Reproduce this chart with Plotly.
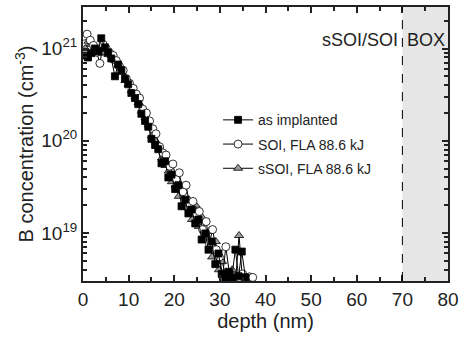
import plotly.graph_objects as go

# depth (nm) and B concentration (cm^-3)
depth_impl = [0.4, 1.1, 1.8, 2.6, 3.3, 4.0, 4.8, 5.5, 6.2, 7.0, 7.7, 8.4, 9.2, 9.9, 10.6, 11.4, 12.1, 12.8,
              13.6, 14.3, 15.0, 15.8, 16.5, 17.2, 18.0, 18.7, 19.4, 20.2, 20.9, 21.6, 22.4, 23.1, 23.8, 24.6,
              25.3, 26.0, 26.8, 27.5, 28.2, 29.0, 29.7, 30.4, 31.2, 31.9, 32.6, 33.4, 34.1, 34.8, 35.6]
conc_impl = [8.4e20, 8.0e20, 8.9e20, 1.0e21, 9.3e20, 1.29e21, 1.03e21, 9.1e20, 7.8e20, 5.0e20, 6.7e20, 5.8e20,
             4.7e20, 4.1e20, 3.3e20, 2.9e20, 2.5e20, 1.96e20, 1.64e20, 1.42e20, 1.05e20, 9.0e19, 8.1e19, 5.7e19,
             6.0e19, 4.0e19, 4.3e19, 3.0e19, 3.3e19, 1.95e19, 2.3e19, 1.63e19, 1.8e19, 1.27e19, 1.4e19, 8.5e18,
             9.9e18, 6.6e18, 8.1e18, 4.6e18, 6.0e18, 3.6e18, 3.3e18, 3.8e18, 3.3e18, 6.6e18, 3.4e18, 6.3e18,
             3.3e18]

depth_soi = [0.2, 0.9, 1.6, 2.3, 3.0, 3.7, 4.4, 5.1, 5.9, 6.6, 7.3, 8.0, 8.8, 9.5, 10.2, 11.0, 11.7, 12.4,
             13.1, 13.9, 14.6, 15.3, 16.0, 16.8, 17.5, 18.2, 19.0, 19.7, 20.4, 21.1, 21.9, 22.6, 23.3, 24.1,
             24.8, 25.5, 26.2, 27.0, 27.7, 28.4, 29.2, 29.9, 30.6, 31.3, 32.1, 32.8, 33.5, 34.3, 35.0, 35.7,
             36.5, 37.2]
conc_soi = [1.36e21, 1.43e21, 1.23e21, 1.08e21, 9.1e20, 6.9e20, 1.11e21, 1.0e21, 8.9e20, 8.4e20, 7.4e20,
            6.4e20, 5.8e20, 4.7e20, 4.2e20, 3.7e20, 3.2e20, 2.9e20, 2.2e20, 2.0e20, 1.64e20, 1.35e20, 1.19e20,
            8.6e19, 7.4e19, 7.0e19, 5.3e19, 5.6e19, 3.8e19, 4.5e19, 2.8e19, 3.3e19, 2.1e19, 2.2e19, 1.63e19,
            1.71e19, 1.09e19, 1.33e19, 7.7e18, 1.09e19, 6.6e18, 5.5e18, 3.4e18, 7.1e18, 3.6e18, 3.3e18, 3.4e18,
            3.3e18, 3.6e18, 3.3e18, 3.35e18, 3.3e18]

depth_ssoi = [0.5, 1.2, 1.9, 2.7, 3.4, 4.1, 4.9, 5.6, 6.3, 7.1, 7.8, 8.5, 9.3, 10.0, 10.7, 11.5, 12.2, 12.9,
              13.7, 14.4, 15.1, 15.9, 16.6, 17.3, 18.1, 18.8, 19.5, 20.3, 21.0, 21.7, 22.5, 23.2, 23.9, 24.7,
              25.4, 26.1, 26.9, 27.6, 28.3, 29.1, 29.8, 30.5, 31.3, 32.0, 32.7, 33.5, 34.2, 34.9, 35.6]
conc_ssoi = [1.0e21, 1.2e21, 1.11e21, 1.06e21, 9.5e20, 8.9e20, 9.1e20, 8.6e20, 8.4e20, 7.4e20, 6.7e20, 5.5e20,
             4.5e20, 4.1e20, 3.5e20, 3.0e20, 2.6e20, 2.1e20, 1.77e20, 1.49e20, 1.13e20, 1.0e20, 8.6e19, 6.5e19,
             5.4e19, 4.7e19, 3.6e19, 3.3e19, 2.5e19, 3.0e19, 1.9e19, 2.3e19, 1.4e19, 2.0e19, 1.18e19, 1.48e19,
             8.5e18, 1.04e19, 5.5e18, 8.1e18, 4.0e18, 4.9e18, 3.4e18, 3.3e18, 4.0e18, 3.3e18, 9.4e18, 3.4e18,
             3.3e18]

series_names = ["as implanted", "SOI, FLA 88.6 kJ", "sSOI, FLA 88.6 kJ"]
box_start = 70
box_end = 80

FONT = "Liberation Sans, Arial, sans-serif"

fig = go.Figure()
fig.add_trace(go.Scatter(x=depth_ssoi, y=conc_ssoi, mode="lines+markers", name=series_names[2],
                         legendgroup="c", legendrank=3,
                         line=dict(color="black", width=1),
                         marker=dict(symbol="triangle-up", size=8, color="#9a9a9a",
                                     line=dict(color="black", width=0.8))))
fig.add_trace(go.Scatter(x=depth_soi, y=conc_soi, mode="lines+markers", name=series_names[1],
                         legendgroup="b", legendrank=2,
                         line=dict(color="black", width=1),
                         marker=dict(symbol="circle", size=8, color="white",
                                     line=dict(color="black", width=0.8))))
fig.add_trace(go.Scatter(x=depth_impl, y=conc_impl, mode="lines+markers", name=series_names[0],
                         legendgroup="a", legendrank=1,
                         line=dict(color="black", width=1),
                         marker=dict(symbol="square", size=7, color="black",
                                     line=dict(color="black", width=0.8))))

fig.add_shape(type="rect", xref="x", yref="paper", x0=box_start, x1=box_end, y0=0, y1=1,
              fillcolor="#e6e6e6", line=dict(width=0), layer="below")
fig.add_shape(type="line", xref="x", yref="paper", x0=box_start, x1=box_start, y0=0, y1=1,
              line=dict(color="black", width=1, dash="dash"))

fig.add_annotation(x=box_start - 0.6, y=0.88, xref="x", yref="paper", text="sSOI/SOI",
                   showarrow=False, xanchor="right", yanchor="middle",
                   font=dict(family=FONT, size=18, color="#222"))
fig.add_annotation(x=box_start + 0.5, y=0.88, xref="x", yref="paper", text="BOX",
                   showarrow=False, xanchor="left", yanchor="middle",
                   font=dict(family=FONT, size=18, color="#222"))

minor_y = [m * 10.0 ** e for e in (18, 19, 20, 21) for m in range(2, 10)]

fig.update_layout(
    width=466, height=337,
    margin=dict(l=83, r=18, t=5, b=56),
    paper_bgcolor="white", plot_bgcolor="white",
    font=dict(family=FONT, size=19, color="#222"),
    showlegend=True,
    legend=dict(x=0.37, y=0.645, xanchor="left", yanchor="top", traceorder="grouped",
                bgcolor="rgba(0,0,0,0)", font=dict(family=FONT, size=14, color="#222"),
                itemwidth=30, tracegroupgap=3),
)
fig.update_xaxes(
    range=[0, 80], tickmode="array", tickvals=[0, 10, 20, 30, 40, 50, 60, 70, 80],
    ticks="inside", ticklen=6, tickwidth=1.5, tickcolor="#222",
    showline=True, linecolor="#222", linewidth=2, mirror="ticks",
    showgrid=False, zeroline=False,
    minor=dict(ticks="inside", tickvals=[5, 15, 25, 35, 45, 55, 65, 75], ticklen=4, tickcolor="#222"),
    title=dict(text="depth (nm)", font=dict(size=20), standoff=2),
    tickfont=dict(size=19),
)
fig.update_yaxes(
    type="log", range=[18.48, 21.45],
    tickmode="array", tickvals=[1e19, 1e20, 1e21],
    ticktext=["10<sup>19</sup>", "10<sup>20</sup>", "10<sup>21</sup>"],
    ticks="inside", ticklen=6, tickwidth=1.5, tickcolor="#222",
    showline=True, linecolor="#222", linewidth=2, mirror="ticks",
    showgrid=False, zeroline=False,
    minor=dict(ticks="inside", ticklen=4, tickcolor="#222", tickvals=minor_y),
    title=dict(text="B concentration (cm<sup>-3</sup>)", font=dict(size=20), standoff=2),
    tickfont=dict(size=19),
)

fig.write_html("out.html", config={"displayModeBar": False},
               post_script="document.body.style.margin='0';")
